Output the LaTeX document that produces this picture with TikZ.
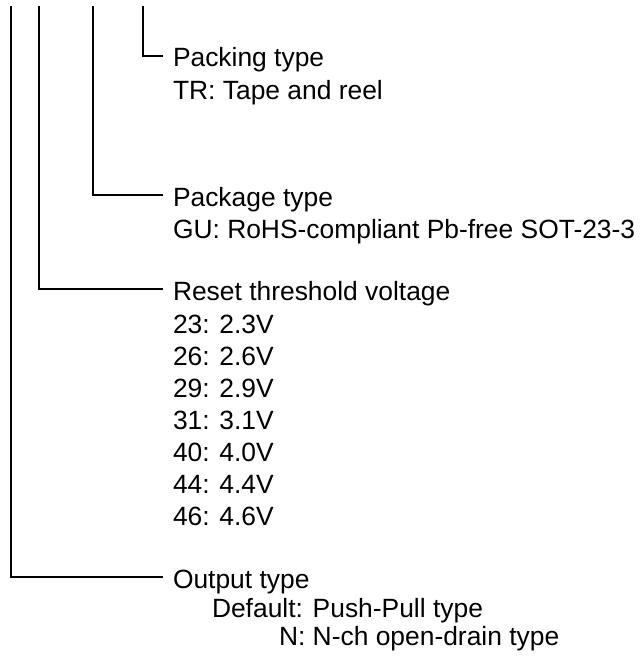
\documentclass[tikz,border=0pt]{standalone}
\usepackage{fontspec}
\setmainfont{Liberation Sans}
\usepackage{tikz}
\usetikzlibrary{positioning}
\newcommand{\branch}[2]
{
	\draw (#1) |- (#2.west)
}

\begin{document}
\begin{tikzpicture}[x=1pt, y=-1pt, line width=1.3pt,
	every node/.append style={font=\fontsize{26.4}{32}\selectfont,
		inner ysep=0pt, inner xsep=10pt, outer sep=0pt},
	head/.style={anchor=base west, text height=22pt, text depth=0pt},
	list/.style={align=left}]
	\useasboundingbox (0,0) rectangle (641,658);

	\coordinate (packtop) at (143,6);
	\coordinate (pkgtop) at (93,6);
	\coordinate (vthtop) at (39,6);
	\coordinate (outtop) at (11,6);

	\node[head] (pack) at (163,67) {Packing type};
	\node[list, below right=13pt and 0pt of pack.south west] (packv) {TR: Tape and reel};

	\node[head] (pkg) at (163,206) {Package type};
	\node[list, below right=13pt and 0pt of pkg.south west] (pkgv) {GU: RoHS-compliant Pb-free SOT-23-3};

	\node[head] (vth) at (163,300) {Reset threshold voltage};
	\node[list, below right=15pt and 0pt of vth.south west] (vthv) {23: 2.3V\\26: 2.6V\\29: 2.9V\\31: 3.1V\\40: 4.0V\\44: 4.4V\\46: 4.6V};

	\node[head] (out) at (163,588) {Output type};
	\node[below right=10pt and 49pt of out.south west, inner xsep=0pt,
		font=\fontsize{26.4}{28}\selectfont] (outv)
		{\begin{tabular}{@{}r@{: }l@{}}Default & Push-Pull type\\N & N-ch open-drain type\end{tabular}};

	\branch{packtop}{pack};
	\branch{pkgtop}{pkg};
	\branch{vthtop}{vth};
	\branch{outtop}{out};
\end{tikzpicture}
\end{document}
